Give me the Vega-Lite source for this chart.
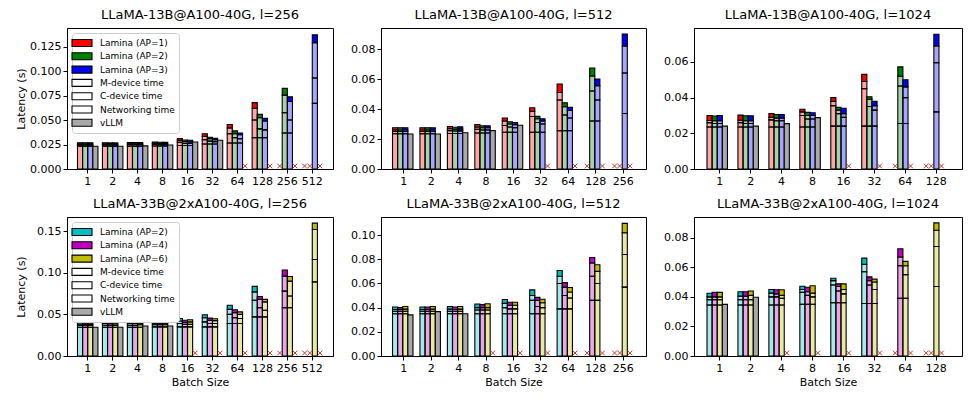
{
  "$schema": "https://vega.github.io/schema/vega-lite/v6.json",
  "description": "Lamina vs vLLM decode latency breakdown",
  "padding": {"left": 14, "top": 8, "right": 2, "bottom": 4},
  "datasets": {
    "p1": [
      {"bs":1,"slot":"a","series":"Lamina (AP=1)","c":0.0232,"m":0.0246,"n":0.0256,"t":0.0268},
      {"bs":1,"slot":"b","series":"Lamina (AP=2)","c":0.0232,"m":0.0246,"n":0.0256,"t":0.0268},
      {"bs":1,"slot":"c","series":"Lamina (AP=3)","c":0.0232,"m":0.0246,"n":0.0256,"t":0.0268},
      {"bs":1,"slot":"d","series":"vLLM","t":0.0233},
      {"bs":2,"slot":"a","series":"Lamina (AP=1)","c":0.0232,"m":0.0246,"n":0.0256,"t":0.0268},
      {"bs":2,"slot":"b","series":"Lamina (AP=2)","c":0.0232,"m":0.0246,"n":0.0256,"t":0.0267},
      {"bs":2,"slot":"c","series":"Lamina (AP=3)","c":0.0232,"m":0.0246,"n":0.0256,"t":0.0267},
      {"bs":2,"slot":"d","series":"vLLM","t":0.0233},
      {"bs":4,"slot":"a","series":"Lamina (AP=1)","c":0.0233,"m":0.0248,"n":0.0258,"t":0.0271},
      {"bs":4,"slot":"b","series":"Lamina (AP=2)","c":0.0233,"m":0.0247,"n":0.0257,"t":0.027},
      {"bs":4,"slot":"c","series":"Lamina (AP=3)","c":0.0233,"m":0.0247,"n":0.0257,"t":0.027},
      {"bs":4,"slot":"d","series":"vLLM","t":0.0236},
      {"bs":8,"slot":"a","series":"Lamina (AP=1)","c":0.0235,"m":0.0251,"n":0.0262,"t":0.0276},
      {"bs":8,"slot":"b","series":"Lamina (AP=2)","c":0.0235,"m":0.0249,"n":0.026,"t":0.0273},
      {"bs":8,"slot":"c","series":"Lamina (AP=3)","c":0.0235,"m":0.0249,"n":0.026,"t":0.0272},
      {"bs":8,"slot":"d","series":"vLLM","t":0.0245},
      {"bs":16,"slot":"a","series":"Lamina (AP=1)","c":0.024,"m":0.027,"n":0.029,"t":0.031},
      {"bs":16,"slot":"b","series":"Lamina (AP=2)","c":0.024,"m":0.026,"n":0.028,"t":0.0296},
      {"bs":16,"slot":"c","series":"Lamina (AP=3)","c":0.024,"m":0.026,"n":0.0275,"t":0.0293},
      {"bs":16,"slot":"d","series":"vLLM","t":0.0275},
      {"bs":32,"slot":"a","series":"Lamina (AP=1)","c":0.0255,"m":0.03,"n":0.0335,"t":0.036},
      {"bs":32,"slot":"b","series":"Lamina (AP=2)","c":0.0255,"m":0.0285,"n":0.031,"t":0.0324},
      {"bs":32,"slot":"c","series":"Lamina (AP=3)","c":0.0255,"m":0.028,"n":0.03,"t":0.0313},
      {"bs":32,"slot":"d","series":"vLLM","t":0.0293},
      {"bs":64,"slot":"a","series":"Lamina (AP=1)","c":0.0265,"m":0.036,"n":0.042,"t":0.0455},
      {"bs":64,"slot":"b","series":"Lamina (AP=2)","c":0.0265,"m":0.032,"n":0.036,"t":0.0389},
      {"bs":64,"slot":"c","series":"Lamina (AP=3)","c":0.0265,"m":0.031,"n":0.035,"t":0.0368},
      {"bs":64,"slot":"d","oom":1},
      {"bs":128,"slot":"a","series":"Lamina (AP=1)","c":0.032,"m":0.05,"n":0.062,"t":0.0678},
      {"bs":128,"slot":"b","series":"Lamina (AP=2)","c":0.032,"m":0.041,"n":0.0523,"t":0.0558},
      {"bs":128,"slot":"c","series":"Lamina (AP=3)","c":0.032,"m":0.04,"n":0.049,"t":0.0517},
      {"bs":128,"slot":"d","oom":1},
      {"bs":256,"slot":"a","oom":1},
      {"bs":256,"slot":"b","series":"Lamina (AP=2)","c":0.0368,"m":0.0575,"n":0.0754,"t":0.0823},
      {"bs":256,"slot":"c","series":"Lamina (AP=3)","c":0.0368,"m":0.05,"n":0.0689,"t":0.0737},
      {"bs":256,"slot":"d","oom":1},
      {"bs":512,"slot":"a","oom":1},
      {"bs":512,"slot":"b","oom":1},
      {"bs":512,"slot":"c","series":"Lamina (AP=3)","c":0.067,"m":0.093,"n":0.129,"t":0.137},
      {"bs":512,"slot":"d","oom":1}
    ],
    "p2": [
      {"bs":1,"slot":"a","series":"Lamina (AP=1)","c":0.0235,"m":0.025,"n":0.026,"t":0.0275},
      {"bs":1,"slot":"b","series":"Lamina (AP=2)","c":0.0235,"m":0.025,"n":0.026,"t":0.0275},
      {"bs":1,"slot":"c","series":"Lamina (AP=3)","c":0.0235,"m":0.025,"n":0.026,"t":0.0275},
      {"bs":1,"slot":"d","series":"vLLM","t":0.0233},
      {"bs":2,"slot":"a","series":"Lamina (AP=1)","c":0.0235,"m":0.025,"n":0.026,"t":0.0275},
      {"bs":2,"slot":"b","series":"Lamina (AP=2)","c":0.0235,"m":0.025,"n":0.026,"t":0.0275},
      {"bs":2,"slot":"c","series":"Lamina (AP=3)","c":0.0235,"m":0.025,"n":0.026,"t":0.0275},
      {"bs":2,"slot":"d","series":"vLLM","t":0.0233},
      {"bs":4,"slot":"a","series":"Lamina (AP=1)","c":0.0237,"m":0.0255,"n":0.0268,"t":0.0283},
      {"bs":4,"slot":"b","series":"Lamina (AP=2)","c":0.0237,"m":0.0253,"n":0.0265,"t":0.0278},
      {"bs":4,"slot":"c","series":"Lamina (AP=3)","c":0.0237,"m":0.0254,"n":0.0266,"t":0.0281},
      {"bs":4,"slot":"d","series":"vLLM","t":0.0242},
      {"bs":8,"slot":"a","series":"Lamina (AP=1)","c":0.024,"m":0.0265,"n":0.028,"t":0.0297},
      {"bs":8,"slot":"b","series":"Lamina (AP=2)","c":0.024,"m":0.026,"n":0.0275,"t":0.0288},
      {"bs":8,"slot":"c","series":"Lamina (AP=3)","c":0.024,"m":0.026,"n":0.0275,"t":0.0288},
      {"bs":8,"slot":"d","series":"vLLM","t":0.0256},
      {"bs":16,"slot":"a","series":"Lamina (AP=1)","c":0.0245,"m":0.029,"n":0.032,"t":0.034},
      {"bs":16,"slot":"b","series":"Lamina (AP=2)","c":0.0245,"m":0.028,"n":0.03,"t":0.0315},
      {"bs":16,"slot":"c","series":"Lamina (AP=3)","c":0.0245,"m":0.0275,"n":0.0295,"t":0.031},
      {"bs":16,"slot":"d","series":"vLLM","t":0.0292},
      {"bs":32,"slot":"a","series":"Lamina (AP=1)","c":0.0245,"m":0.035,"n":0.0385,"t":0.0408},
      {"bs":32,"slot":"b","series":"Lamina (AP=2)","c":0.0245,"m":0.031,"n":0.0335,"t":0.0351},
      {"bs":32,"slot":"c","series":"Lamina (AP=3)","c":0.0245,"m":0.03,"n":0.032,"t":0.0335},
      {"bs":32,"slot":"d","oom":1},
      {"bs":64,"slot":"a","series":"Lamina (AP=1)","c":0.0255,"m":0.046,"n":0.051,"t":0.0567},
      {"bs":64,"slot":"b","series":"Lamina (AP=2)","c":0.0255,"m":0.036,"n":0.0415,"t":0.0442},
      {"bs":64,"slot":"c","series":"Lamina (AP=3)","c":0.0255,"m":0.034,"n":0.039,"t":0.0412},
      {"bs":64,"slot":"d","oom":1},
      {"bs":128,"slot":"a","oom":1},
      {"bs":128,"slot":"b","series":"Lamina (AP=2)","c":0.032,"m":0.052,"n":0.062,"t":0.0673},
      {"bs":128,"slot":"c","series":"Lamina (AP=3)","c":0.032,"m":0.046,"n":0.0555,"t":0.06},
      {"bs":128,"slot":"d","oom":1},
      {"bs":256,"slot":"a","oom":1},
      {"bs":256,"slot":"b","oom":1},
      {"bs":256,"slot":"c","series":"Lamina (AP=3)","c":0.037,"m":0.064,"n":0.082,"t":0.09},
      {"bs":256,"slot":"d","oom":1}
    ],
    "p3": [
      {"bs":1,"slot":"a","series":"Lamina (AP=1)","c":0.0235,"m":0.026,"n":0.0272,"t":0.03},
      {"bs":1,"slot":"b","series":"Lamina (AP=2)","c":0.0235,"m":0.0255,"n":0.027,"t":0.0297},
      {"bs":1,"slot":"c","series":"Lamina (AP=3)","c":0.0235,"m":0.0255,"n":0.027,"t":0.03},
      {"bs":1,"slot":"d","series":"vLLM","t":0.024},
      {"bs":2,"slot":"a","series":"Lamina (AP=1)","c":0.0235,"m":0.026,"n":0.0274,"t":0.0302},
      {"bs":2,"slot":"b","series":"Lamina (AP=2)","c":0.0235,"m":0.0255,"n":0.027,"t":0.0298},
      {"bs":2,"slot":"c","series":"Lamina (AP=3)","c":0.0235,"m":0.0255,"n":0.027,"t":0.0298},
      {"bs":2,"slot":"d","series":"vLLM","t":0.024},
      {"bs":4,"slot":"a","series":"Lamina (AP=1)","c":0.0235,"m":0.0275,"n":0.029,"t":0.031},
      {"bs":4,"slot":"b","series":"Lamina (AP=2)","c":0.0235,"m":0.027,"n":0.0285,"t":0.0305},
      {"bs":4,"slot":"c","series":"Lamina (AP=3)","c":0.0235,"m":0.027,"n":0.0285,"t":0.0305},
      {"bs":4,"slot":"d","series":"vLLM","t":0.0254},
      {"bs":8,"slot":"a","series":"Lamina (AP=1)","c":0.0235,"m":0.03,"n":0.032,"t":0.0335},
      {"bs":8,"slot":"b","series":"Lamina (AP=2)","c":0.0235,"m":0.028,"n":0.03,"t":0.0317},
      {"bs":8,"slot":"c","series":"Lamina (AP=3)","c":0.0235,"m":0.028,"n":0.03,"t":0.0315},
      {"bs":8,"slot":"d","series":"vLLM","t":0.0288},
      {"bs":16,"slot":"a","series":"Lamina (AP=1)","c":0.024,"m":0.0355,"n":0.038,"t":0.04},
      {"bs":16,"slot":"b","series":"Lamina (AP=2)","c":0.024,"m":0.031,"n":0.033,"t":0.0345},
      {"bs":16,"slot":"c","series":"Lamina (AP=3)","c":0.024,"m":0.029,"n":0.031,"t":0.034},
      {"bs":16,"slot":"d","oom":1},
      {"bs":32,"slot":"a","series":"Lamina (AP=1)","c":0.024,"m":0.045,"n":0.049,"t":0.053},
      {"bs":32,"slot":"b","series":"Lamina (AP=2)","c":0.024,"m":0.035,"n":0.039,"t":0.0405},
      {"bs":32,"slot":"c","series":"Lamina (AP=3)","c":0.024,"m":0.033,"n":0.0355,"t":0.038},
      {"bs":32,"slot":"d","oom":1},
      {"bs":64,"slot":"a","oom":1},
      {"bs":64,"slot":"b","series":"Lamina (AP=2)","c":0.0255,"m":0.0465,"n":0.052,"t":0.0572},
      {"bs":64,"slot":"c","series":"Lamina (AP=3)","c":0.0255,"m":0.04,"n":0.046,"t":0.05},
      {"bs":64,"slot":"d","oom":1},
      {"bs":128,"slot":"a","oom":1},
      {"bs":128,"slot":"b","oom":1},
      {"bs":128,"slot":"c","series":"Lamina (AP=3)","c":0.032,"m":0.0595,"n":0.069,"t":0.0755},
      {"bs":128,"slot":"d","oom":1}
    ],
    "p4": [
      {"bs":1,"slot":"a","series":"Lamina (AP=2)","c":0.0345,"m":0.037,"n":0.0385,"t":0.0405},
      {"bs":1,"slot":"b","series":"Lamina (AP=4)","c":0.0345,"m":0.037,"n":0.0385,"t":0.04},
      {"bs":1,"slot":"c","series":"Lamina (AP=6)","c":0.0345,"m":0.037,"n":0.038,"t":0.0398},
      {"bs":1,"slot":"d","series":"vLLM","t":0.0345},
      {"bs":2,"slot":"a","series":"Lamina (AP=2)","c":0.0345,"m":0.037,"n":0.039,"t":0.041},
      {"bs":2,"slot":"b","series":"Lamina (AP=4)","c":0.0345,"m":0.037,"n":0.0388,"t":0.041},
      {"bs":2,"slot":"c","series":"Lamina (AP=6)","c":0.0345,"m":0.037,"n":0.0388,"t":0.041},
      {"bs":2,"slot":"d","series":"vLLM","t":0.0345},
      {"bs":4,"slot":"a","series":"Lamina (AP=2)","c":0.0345,"m":0.037,"n":0.039,"t":0.041},
      {"bs":4,"slot":"b","series":"Lamina (AP=4)","c":0.0345,"m":0.037,"n":0.039,"t":0.041},
      {"bs":4,"slot":"c","series":"Lamina (AP=6)","c":0.0345,"m":0.0375,"n":0.0395,"t":0.042},
      {"bs":4,"slot":"d","series":"vLLM","t":0.036},
      {"bs":8,"slot":"a","series":"Lamina (AP=2)","c":0.035,"m":0.0375,"n":0.0395,"t":0.042},
      {"bs":8,"slot":"b","series":"Lamina (AP=4)","c":0.035,"m":0.0375,"n":0.0395,"t":0.0418},
      {"bs":8,"slot":"c","series":"Lamina (AP=6)","c":0.035,"m":0.0375,"n":0.0395,"t":0.0418},
      {"bs":8,"slot":"d","series":"vLLM","t":0.036},
      {"bs":16,"slot":"a","series":"Lamina (AP=2)","c":0.035,"m":0.039,"n":0.042,"t":0.045},
      {"bs":16,"slot":"b","series":"Lamina (AP=4)","c":0.035,"m":0.038,"n":0.0405,"t":0.043},
      {"bs":16,"slot":"c","series":"Lamina (AP=6)","c":0.035,"m":0.038,"n":0.041,"t":0.0435},
      {"bs":16,"slot":"d","oom":1},
      {"bs":32,"slot":"a","series":"Lamina (AP=2)","c":0.035,"m":0.041,"n":0.046,"t":0.0495},
      {"bs":32,"slot":"b","series":"Lamina (AP=4)","c":0.035,"m":0.039,"n":0.043,"t":0.0455},
      {"bs":32,"slot":"c","series":"Lamina (AP=6)","c":0.035,"m":0.039,"n":0.0425,"t":0.0448},
      {"bs":32,"slot":"d","oom":1},
      {"bs":64,"slot":"a","series":"Lamina (AP=2)","c":0.039,"m":0.05,"n":0.056,"t":0.061},
      {"bs":64,"slot":"b","series":"Lamina (AP=4)","c":0.039,"m":0.046,"n":0.052,"t":0.0555},
      {"bs":64,"slot":"c","series":"Lamina (AP=6)","c":0.039,"m":0.045,"n":0.05,"t":0.053},
      {"bs":64,"slot":"d","oom":1},
      {"bs":128,"slot":"a","series":"Lamina (AP=2)","c":0.047,"m":0.067,"n":0.077,"t":0.0836},
      {"bs":128,"slot":"b","series":"Lamina (AP=4)","c":0.047,"m":0.058,"n":0.068,"t":0.0715},
      {"bs":128,"slot":"c","series":"Lamina (AP=6)","c":0.047,"m":0.055,"n":0.065,"t":0.068},
      {"bs":128,"slot":"d","oom":1},
      {"bs":256,"slot":"a","oom":1},
      {"bs":256,"slot":"b","series":"Lamina (AP=4)","c":0.058,"m":0.078,"n":0.096,"t":0.1033},
      {"bs":256,"slot":"c","series":"Lamina (AP=6)","c":0.058,"m":0.072,"n":0.09,"t":0.0955},
      {"bs":256,"slot":"d","oom":1},
      {"bs":512,"slot":"a","oom":1},
      {"bs":512,"slot":"b","oom":1},
      {"bs":512,"slot":"c","series":"Lamina (AP=6)","c":0.089,"m":0.116,"n":0.152,"t":0.1596},
      {"bs":512,"slot":"d","oom":1}
    ],
    "p5": [
      {"bs":1,"slot":"a","series":"Lamina (AP=2)","c":0.035,"m":0.037,"n":0.0385,"t":0.0405},
      {"bs":1,"slot":"b","series":"Lamina (AP=4)","c":0.035,"m":0.037,"n":0.0385,"t":0.04},
      {"bs":1,"slot":"c","series":"Lamina (AP=6)","c":0.035,"m":0.037,"n":0.0388,"t":0.041},
      {"bs":1,"slot":"d","series":"vLLM","t":0.034},
      {"bs":2,"slot":"a","series":"Lamina (AP=2)","c":0.035,"m":0.037,"n":0.0385,"t":0.0405},
      {"bs":2,"slot":"b","series":"Lamina (AP=4)","c":0.035,"m":0.037,"n":0.0385,"t":0.0405},
      {"bs":2,"slot":"c","series":"Lamina (AP=6)","c":0.035,"m":0.037,"n":0.0388,"t":0.041},
      {"bs":2,"slot":"d","series":"vLLM","t":0.0367},
      {"bs":4,"slot":"a","series":"Lamina (AP=2)","c":0.035,"m":0.037,"n":0.0388,"t":0.041},
      {"bs":4,"slot":"b","series":"Lamina (AP=4)","c":0.035,"m":0.037,"n":0.0385,"t":0.0405},
      {"bs":4,"slot":"c","series":"Lamina (AP=6)","c":0.035,"m":0.037,"n":0.0388,"t":0.041},
      {"bs":4,"slot":"d","series":"vLLM","t":0.035},
      {"bs":8,"slot":"a","series":"Lamina (AP=2)","c":0.035,"m":0.038,"n":0.04,"t":0.043},
      {"bs":8,"slot":"b","series":"Lamina (AP=4)","c":0.035,"m":0.038,"n":0.04,"t":0.0425},
      {"bs":8,"slot":"c","series":"Lamina (AP=6)","c":0.035,"m":0.038,"n":0.04,"t":0.0432},
      {"bs":8,"slot":"d","oom":1},
      {"bs":16,"slot":"a","series":"Lamina (AP=2)","c":0.035,"m":0.04,"n":0.0435,"t":0.0467},
      {"bs":16,"slot":"b","series":"Lamina (AP=4)","c":0.035,"m":0.039,"n":0.042,"t":0.0445},
      {"bs":16,"slot":"c","series":"Lamina (AP=6)","c":0.035,"m":0.039,"n":0.042,"t":0.0445},
      {"bs":16,"slot":"d","oom":1},
      {"bs":32,"slot":"a","series":"Lamina (AP=2)","c":0.035,"m":0.046,"n":0.05,"t":0.0547},
      {"bs":32,"slot":"b","series":"Lamina (AP=4)","c":0.035,"m":0.041,"n":0.046,"t":0.0485},
      {"bs":32,"slot":"c","series":"Lamina (AP=6)","c":0.035,"m":0.04,"n":0.044,"t":0.047},
      {"bs":32,"slot":"d","oom":1},
      {"bs":64,"slot":"a","series":"Lamina (AP=2)","c":0.039,"m":0.06,"n":0.066,"t":0.0707},
      {"bs":64,"slot":"b","series":"Lamina (AP=4)","c":0.039,"m":0.05,"n":0.057,"t":0.0607},
      {"bs":64,"slot":"c","series":"Lamina (AP=6)","c":0.039,"m":0.048,"n":0.053,"t":0.0567},
      {"bs":64,"slot":"d","oom":1},
      {"bs":128,"slot":"a","oom":1},
      {"bs":128,"slot":"b","series":"Lamina (AP=4)","c":0.046,"m":0.066,"n":0.077,"t":0.0815},
      {"bs":128,"slot":"c","series":"Lamina (AP=6)","c":0.046,"m":0.06,"n":0.07,"t":0.0755},
      {"bs":128,"slot":"d","oom":1},
      {"bs":256,"slot":"a","oom":1},
      {"bs":256,"slot":"b","oom":1},
      {"bs":256,"slot":"c","series":"Lamina (AP=6)","c":0.057,"m":0.084,"n":0.102,"t":0.1097},
      {"bs":256,"slot":"d","oom":1}
    ],
    "p6": [
      {"bs":1,"slot":"a","series":"Lamina (AP=2)","c":0.0345,"m":0.038,"n":0.04,"t":0.0424},
      {"bs":1,"slot":"b","series":"Lamina (AP=4)","c":0.0345,"m":0.038,"n":0.04,"t":0.043},
      {"bs":1,"slot":"c","series":"Lamina (AP=6)","c":0.0345,"m":0.038,"n":0.04,"t":0.043},
      {"bs":1,"slot":"d","series":"vLLM","t":0.0349},
      {"bs":2,"slot":"a","series":"Lamina (AP=2)","c":0.0345,"m":0.038,"n":0.0405,"t":0.0435},
      {"bs":2,"slot":"b","series":"Lamina (AP=4)","c":0.0345,"m":0.038,"n":0.0405,"t":0.0435},
      {"bs":2,"slot":"c","series":"Lamina (AP=6)","c":0.0345,"m":0.038,"n":0.041,"t":0.044},
      {"bs":2,"slot":"d","series":"vLLM","t":0.0397},
      {"bs":4,"slot":"a","series":"Lamina (AP=2)","c":0.0345,"m":0.04,"n":0.0425,"t":0.045},
      {"bs":4,"slot":"b","series":"Lamina (AP=4)","c":0.0345,"m":0.04,"n":0.042,"t":0.0448},
      {"bs":4,"slot":"c","series":"Lamina (AP=6)","c":0.0345,"m":0.039,"n":0.041,"t":0.0448},
      {"bs":4,"slot":"d","oom":1},
      {"bs":8,"slot":"a","series":"Lamina (AP=2)","c":0.035,"m":0.043,"n":0.045,"t":0.0472},
      {"bs":8,"slot":"b","series":"Lamina (AP=4)","c":0.035,"m":0.041,"n":0.0435,"t":0.0465},
      {"bs":8,"slot":"c","series":"Lamina (AP=6)","c":0.035,"m":0.04,"n":0.0425,"t":0.0475},
      {"bs":8,"slot":"d","oom":1},
      {"bs":16,"slot":"a","series":"Lamina (AP=2)","c":0.036,"m":0.048,"n":0.051,"t":0.0526},
      {"bs":16,"slot":"b","series":"Lamina (AP=4)","c":0.036,"m":0.044,"n":0.047,"t":0.0488},
      {"bs":16,"slot":"c","series":"Lamina (AP=6)","c":0.036,"m":0.042,"n":0.045,"t":0.0488},
      {"bs":16,"slot":"d","oom":1},
      {"bs":32,"slot":"a","series":"Lamina (AP=2)","c":0.0355,"m":0.057,"n":0.062,"t":0.0662},
      {"bs":32,"slot":"b","series":"Lamina (AP=4)","c":0.0355,"m":0.048,"n":0.051,"t":0.0535},
      {"bs":32,"slot":"c","series":"Lamina (AP=6)","c":0.0355,"m":0.045,"n":0.05,"t":0.052},
      {"bs":32,"slot":"d","oom":1},
      {"bs":64,"slot":"a","oom":1},
      {"bs":64,"slot":"b","series":"Lamina (AP=4)","c":0.039,"m":0.061,"n":0.067,"t":0.0725},
      {"bs":64,"slot":"c","series":"Lamina (AP=6)","c":0.039,"m":0.055,"n":0.061,"t":0.064},
      {"bs":64,"slot":"d","oom":1},
      {"bs":128,"slot":"a","oom":1},
      {"bs":128,"slot":"b","oom":1},
      {"bs":128,"slot":"c","series":"Lamina (AP=6)","c":0.047,"m":0.074,"n":0.085,"t":0.09},
      {"bs":128,"slot":"d","oom":1}
    ]
  },
  "vconcat": [
    {
      "hconcat": [
        {
          "title": "LLaMA-13B@A100-40G, l=256",
          "width": 266, "height": 141,
          "data": {"name": "p1"},
          "encoding": {
            "x": {"field": "bs", "type": "ordinal", "scale": {"paddingInner": 0.18, "paddingOuter": 0.42}, "axis": {"title": null}},
            "xOffset": {"field": "slot", "type": "nominal", "scale": {"domain": ["a","b","c","d"], "paddingInner": 0}},
            "color": {"field": "series", "type": "nominal",
              "scale": {"domain": ["Lamina (AP=1)","Lamina (AP=2)","Lamina (AP=3)","M-device time","C-device time","Networking time","vLLM"],
                        "range": ["#ff0000","#008000","#0000ff","#ffffff","#ffffff","#ffffff","#a9a9a9"]},
              "legend": {"orient": "top-left", "title": null, "offset": 5, "padding": 4, "cornerRadius": 3,
                         "strokeColor": "#cccccc", "fillColor": "white",
                         "symbolType": "M-2,-0.7H2V0.7H-2Z", "symbolSize": 100, "symbolStrokeColor": "black", "symbolStrokeWidth": 1,
                         "symbolOpacity": 1, "labelFontSize": 9, "labelOffset": 12, "labelColor": "black", "rowPadding": 1.3,
                         "encode": {"symbols": {"update": {"fillOpacity": {"value": 1}, "opacity": {"value": 1}}}}}}
          },
          "layer": [
            {"transform": [{"filter": "isValid(datum.c)"}], "mark": {"type": "bar", "fillOpacity": 0.35},
             "encoding": {"y": {"field": "c", "type": "quantitative", "stack": null, "scale": {"domain": [0, 0.144], "nice": false},
               "axis": {"values": [0, 0.025, 0.05, 0.075, 0.1, 0.125], "format": ".3f", "title": "Latency (s)", "minExtent": 38}}}},
            {"transform": [{"filter": "isValid(datum.c)"}], "mark": {"type": "bar", "fillOpacity": 0.35},
             "encoding": {"y": {"field": "m", "type": "quantitative",
               "axis": {"values": [0, 0.025, 0.05, 0.075, 0.1, 0.125], "format": ".3f", "title": "Latency (s)", "minExtent": 38}}, "y2": {"field": "c"}}},
            {"transform": [{"filter": "isValid(datum.c)"}], "mark": {"type": "bar", "fillOpacity": 0.35},
             "encoding": {"y": {"field": "n", "type": "quantitative",
               "axis": {"values": [0, 0.025, 0.05, 0.075, 0.1, 0.125], "format": ".3f", "title": "Latency (s)", "minExtent": 38}}, "y2": {"field": "m"}}},
            {"transform": [{"filter": "isValid(datum.c)"}], "mark": {"type": "bar"},
             "encoding": {"y": {"field": "t", "type": "quantitative",
               "axis": {"values": [0, 0.025, 0.05, 0.075, 0.1, 0.125], "format": ".3f", "title": "Latency (s)", "minExtent": 38}}, "y2": {"field": "n"}}},
            {"transform": [{"filter": "datum.series === 'vLLM'"}], "mark": {"type": "bar"},
             "encoding": {"y": {"field": "t", "type": "quantitative", "stack": null,
               "axis": {"values": [0, 0.025, 0.05, 0.075, 0.1, 0.125], "format": ".3f", "title": "Latency (s)", "minExtent": 38}}}},
            {"transform": [{"filter": "datum.oom === 1"}],
             "mark": {"type": "point", "shape": "M-1,-1L1,1M-1,1L1,-1", "filled": false, "opacity": 1, "size": 22, "strokeWidth": 1, "yOffset": -3},
             "encoding": {"y": {"datum": 0, "type": "quantitative",
               "axis": {"values": [0, 0.025, 0.05, 0.075, 0.1, 0.125], "format": ".3f", "title": "Latency (s)", "minExtent": 38}}, "color": {"value": "#c0392b"}}}
          ]
        },
        {
          "title": "LLaMA-13B@A100-40G, l=512",
          "width": 265, "height": 141,
          "data": {"name": "p2"},
          "encoding": {
            "x": {"field": "bs", "type": "ordinal", "scale": {"paddingInner": 0.18, "paddingOuter": 0.42}, "axis": {"title": null}},
            "xOffset": {"field": "slot", "type": "nominal", "scale": {"domain": ["a","b","c","d"], "paddingInner": 0}},
            "color": {"field": "series", "type": "nominal",
              "scale": {"domain": ["Lamina (AP=1)","Lamina (AP=2)","Lamina (AP=3)","M-device time","C-device time","Networking time","vLLM"],
                        "range": ["#ff0000","#008000","#0000ff","#ffffff","#ffffff","#ffffff","#a9a9a9"]},
              "legend": null}
          },
          "layer": [
            {"transform": [{"filter": "isValid(datum.c)"}], "mark": {"type": "bar", "fillOpacity": 0.35},
             "encoding": {"y": {"field": "c", "type": "quantitative", "stack": null, "scale": {"domain": [0, 0.094], "nice": false},
               "axis": {"values": [0, 0.02, 0.04, 0.06, 0.08], "format": ".2f", "title": null}}}},
            {"transform": [{"filter": "isValid(datum.c)"}], "mark": {"type": "bar", "fillOpacity": 0.35},
             "encoding": {"y": {"field": "m", "type": "quantitative",
               "axis": {"values": [0, 0.02, 0.04, 0.06, 0.08], "format": ".2f", "title": null}}, "y2": {"field": "c"}}},
            {"transform": [{"filter": "isValid(datum.c)"}], "mark": {"type": "bar", "fillOpacity": 0.35},
             "encoding": {"y": {"field": "n", "type": "quantitative",
               "axis": {"values": [0, 0.02, 0.04, 0.06, 0.08], "format": ".2f", "title": null}}, "y2": {"field": "m"}}},
            {"transform": [{"filter": "isValid(datum.c)"}], "mark": {"type": "bar"},
             "encoding": {"y": {"field": "t", "type": "quantitative",
               "axis": {"values": [0, 0.02, 0.04, 0.06, 0.08], "format": ".2f", "title": null}}, "y2": {"field": "n"}}},
            {"transform": [{"filter": "datum.series === 'vLLM'"}], "mark": {"type": "bar"},
             "encoding": {"y": {"field": "t", "type": "quantitative", "stack": null,
               "axis": {"values": [0, 0.02, 0.04, 0.06, 0.08], "format": ".2f", "title": null}}}},
            {"transform": [{"filter": "datum.oom === 1"}],
             "mark": {"type": "point", "shape": "M-1,-1L1,1M-1,1L1,-1", "filled": false, "opacity": 1, "size": 22, "strokeWidth": 1, "yOffset": -3},
             "encoding": {"y": {"datum": 0, "type": "quantitative",
               "axis": {"values": [0, 0.02, 0.04, 0.06, 0.08], "format": ".2f", "title": null}}, "color": {"value": "#c0392b"}}}
          ]
        },
        {
          "title": "LLaMA-13B@A100-40G, l=1024",
          "width": 268, "height": 141,
          "data": {"name": "p3"},
          "encoding": {
            "x": {"field": "bs", "type": "ordinal", "scale": {"paddingInner": 0.18, "paddingOuter": 0.42}, "axis": {"title": null}},
            "xOffset": {"field": "slot", "type": "nominal", "scale": {"domain": ["a","b","c","d"], "paddingInner": 0}},
            "color": {"field": "series", "type": "nominal",
              "scale": {"domain": ["Lamina (AP=1)","Lamina (AP=2)","Lamina (AP=3)","M-device time","C-device time","Networking time","vLLM"],
                        "range": ["#ff0000","#008000","#0000ff","#ffffff","#ffffff","#ffffff","#a9a9a9"]},
              "legend": null}
          },
          "layer": [
            {"transform": [{"filter": "isValid(datum.c)"}], "mark": {"type": "bar", "fillOpacity": 0.35},
             "encoding": {"y": {"field": "c", "type": "quantitative", "stack": null, "scale": {"domain": [0, 0.079], "nice": false},
               "axis": {"values": [0, 0.02, 0.04, 0.06], "format": ".2f", "title": null}}}},
            {"transform": [{"filter": "isValid(datum.c)"}], "mark": {"type": "bar", "fillOpacity": 0.35},
             "encoding": {"y": {"field": "m", "type": "quantitative",
               "axis": {"values": [0, 0.02, 0.04, 0.06], "format": ".2f", "title": null}}, "y2": {"field": "c"}}},
            {"transform": [{"filter": "isValid(datum.c)"}], "mark": {"type": "bar", "fillOpacity": 0.35},
             "encoding": {"y": {"field": "n", "type": "quantitative",
               "axis": {"values": [0, 0.02, 0.04, 0.06], "format": ".2f", "title": null}}, "y2": {"field": "m"}}},
            {"transform": [{"filter": "isValid(datum.c)"}], "mark": {"type": "bar"},
             "encoding": {"y": {"field": "t", "type": "quantitative",
               "axis": {"values": [0, 0.02, 0.04, 0.06], "format": ".2f", "title": null}}, "y2": {"field": "n"}}},
            {"transform": [{"filter": "datum.series === 'vLLM'"}], "mark": {"type": "bar"},
             "encoding": {"y": {"field": "t", "type": "quantitative", "stack": null,
               "axis": {"values": [0, 0.02, 0.04, 0.06], "format": ".2f", "title": null}}}},
            {"transform": [{"filter": "datum.oom === 1"}],
             "mark": {"type": "point", "shape": "M-1,-1L1,1M-1,1L1,-1", "filled": false, "opacity": 1, "size": 22, "strokeWidth": 1, "yOffset": -3},
             "encoding": {"y": {"datum": 0, "type": "quantitative",
               "axis": {"values": [0, 0.02, 0.04, 0.06], "format": ".2f", "title": null}}, "color": {"value": "#c0392b"}}}
          ]
        }
      ],
      "spacing": 16,
      "resolve": {"scale": {"color": "independent"}, "legend": {"color": "independent"}}
    },
    {
      "hconcat": [
        {
          "title": "LLaMA-33B@2xA100-40G, l=256",
          "width": 266, "height": 139,
          "data": {"name": "p4"},
          "encoding": {
            "x": {"field": "bs", "type": "ordinal", "scale": {"paddingInner": 0.18, "paddingOuter": 0.42}, "axis": {"title": "Batch Size"}},
            "xOffset": {"field": "slot", "type": "nominal", "scale": {"domain": ["a","b","c","d"], "paddingInner": 0}},
            "color": {"field": "series", "type": "nominal",
              "scale": {"domain": ["Lamina (AP=2)","Lamina (AP=4)","Lamina (AP=6)","M-device time","C-device time","Networking time","vLLM"],
                        "range": ["#00bfbf","#bf00bf","#bfbf00","#ffffff","#ffffff","#ffffff","#a9a9a9"]},
              "legend": {"orient": "top-left", "title": null, "offset": 5, "padding": 4, "cornerRadius": 3,
                         "strokeColor": "#cccccc", "fillColor": "white",
                         "symbolType": "M-2,-0.7H2V0.7H-2Z", "symbolSize": 100, "symbolStrokeColor": "black", "symbolStrokeWidth": 1,
                         "symbolOpacity": 1, "labelFontSize": 9, "labelOffset": 12, "labelColor": "black", "rowPadding": 1.3,
                         "encode": {"symbols": {"update": {"fillOpacity": {"value": 1}, "opacity": {"value": 1}}}}}}
          },
          "layer": [
            {"transform": [{"filter": "isValid(datum.c)"}], "mark": {"type": "bar", "fillOpacity": 0.35},
             "encoding": {"y": {"field": "c", "type": "quantitative", "stack": null, "scale": {"domain": [0, 0.167], "nice": false},
               "axis": {"values": [0, 0.05, 0.1, 0.15], "format": ".2f", "title": "Latency (s)", "minExtent": 38}}}},
            {"transform": [{"filter": "isValid(datum.c)"}], "mark": {"type": "bar", "fillOpacity": 0.35},
             "encoding": {"y": {"field": "m", "type": "quantitative",
               "axis": {"values": [0, 0.05, 0.1, 0.15], "format": ".2f", "title": "Latency (s)", "minExtent": 38}}, "y2": {"field": "c"}}},
            {"transform": [{"filter": "isValid(datum.c)"}], "mark": {"type": "bar", "fillOpacity": 0.35},
             "encoding": {"y": {"field": "n", "type": "quantitative",
               "axis": {"values": [0, 0.05, 0.1, 0.15], "format": ".2f", "title": "Latency (s)", "minExtent": 38}}, "y2": {"field": "m"}}},
            {"transform": [{"filter": "isValid(datum.c)"}], "mark": {"type": "bar"},
             "encoding": {"y": {"field": "t", "type": "quantitative",
               "axis": {"values": [0, 0.05, 0.1, 0.15], "format": ".2f", "title": "Latency (s)", "minExtent": 38}}, "y2": {"field": "n"}}},
            {"transform": [{"filter": "datum.series === 'vLLM'"}], "mark": {"type": "bar"},
             "encoding": {"y": {"field": "t", "type": "quantitative", "stack": null,
               "axis": {"values": [0, 0.05, 0.1, 0.15], "format": ".2f", "title": "Latency (s)", "minExtent": 38}}}},
            {"transform": [{"filter": "datum.oom === 1"}],
             "mark": {"type": "point", "shape": "M-1,-1L1,1M-1,1L1,-1", "filled": false, "opacity": 1, "size": 22, "strokeWidth": 1, "yOffset": -3},
             "encoding": {"y": {"datum": 0, "type": "quantitative",
               "axis": {"values": [0, 0.05, 0.1, 0.15], "format": ".2f", "title": "Latency (s)", "minExtent": 38}}, "color": {"value": "#c0392b"}}}
          ]
        },
        {
          "title": "LLaMA-33B@2xA100-40G, l=512",
          "width": 265, "height": 139,
          "data": {"name": "p5"},
          "encoding": {
            "x": {"field": "bs", "type": "ordinal", "scale": {"paddingInner": 0.18, "paddingOuter": 0.42}, "axis": {"title": "Batch Size"}},
            "xOffset": {"field": "slot", "type": "nominal", "scale": {"domain": ["a","b","c","d"], "paddingInner": 0}},
            "color": {"field": "series", "type": "nominal",
              "scale": {"domain": ["Lamina (AP=2)","Lamina (AP=4)","Lamina (AP=6)","M-device time","C-device time","Networking time","vLLM"],
                        "range": ["#00bfbf","#bf00bf","#bfbf00","#ffffff","#ffffff","#ffffff","#a9a9a9"]},
              "legend": null}
          },
          "layer": [
            {"transform": [{"filter": "isValid(datum.c)"}], "mark": {"type": "bar", "fillOpacity": 0.35},
             "encoding": {"y": {"field": "c", "type": "quantitative", "stack": null, "scale": {"domain": [0, 0.115], "nice": false},
               "axis": {"values": [0, 0.02, 0.04, 0.06, 0.08, 0.1], "format": ".2f", "title": null}}}},
            {"transform": [{"filter": "isValid(datum.c)"}], "mark": {"type": "bar", "fillOpacity": 0.35},
             "encoding": {"y": {"field": "m", "type": "quantitative",
               "axis": {"values": [0, 0.02, 0.04, 0.06, 0.08, 0.1], "format": ".2f", "title": null}}, "y2": {"field": "c"}}},
            {"transform": [{"filter": "isValid(datum.c)"}], "mark": {"type": "bar", "fillOpacity": 0.35},
             "encoding": {"y": {"field": "n", "type": "quantitative",
               "axis": {"values": [0, 0.02, 0.04, 0.06, 0.08, 0.1], "format": ".2f", "title": null}}, "y2": {"field": "m"}}},
            {"transform": [{"filter": "isValid(datum.c)"}], "mark": {"type": "bar"},
             "encoding": {"y": {"field": "t", "type": "quantitative",
               "axis": {"values": [0, 0.02, 0.04, 0.06, 0.08, 0.1], "format": ".2f", "title": null}}, "y2": {"field": "n"}}},
            {"transform": [{"filter": "datum.series === 'vLLM'"}], "mark": {"type": "bar"},
             "encoding": {"y": {"field": "t", "type": "quantitative", "stack": null,
               "axis": {"values": [0, 0.02, 0.04, 0.06, 0.08, 0.1], "format": ".2f", "title": null}}}},
            {"transform": [{"filter": "datum.oom === 1"}],
             "mark": {"type": "point", "shape": "M-1,-1L1,1M-1,1L1,-1", "filled": false, "opacity": 1, "size": 22, "strokeWidth": 1, "yOffset": -3},
             "encoding": {"y": {"datum": 0, "type": "quantitative",
               "axis": {"values": [0, 0.02, 0.04, 0.06, 0.08, 0.1], "format": ".2f", "title": null}}, "color": {"value": "#c0392b"}}}
          ]
        },
        {
          "title": "LLaMA-33B@2xA100-40G, l=1024",
          "width": 268, "height": 139,
          "data": {"name": "p6"},
          "encoding": {
            "x": {"field": "bs", "type": "ordinal", "scale": {"paddingInner": 0.18, "paddingOuter": 0.42}, "axis": {"title": "Batch Size"}},
            "xOffset": {"field": "slot", "type": "nominal", "scale": {"domain": ["a","b","c","d"], "paddingInner": 0}},
            "color": {"field": "series", "type": "nominal",
              "scale": {"domain": ["Lamina (AP=2)","Lamina (AP=4)","Lamina (AP=6)","M-device time","C-device time","Networking time","vLLM"],
                        "range": ["#00bfbf","#bf00bf","#bfbf00","#ffffff","#ffffff","#ffffff","#a9a9a9"]},
              "legend": null}
          },
          "layer": [
            {"transform": [{"filter": "isValid(datum.c)"}], "mark": {"type": "bar", "fillOpacity": 0.35},
             "encoding": {"y": {"field": "c", "type": "quantitative", "stack": null, "scale": {"domain": [0, 0.094], "nice": false},
               "axis": {"values": [0, 0.02, 0.04, 0.06, 0.08], "format": ".2f", "title": null}}}},
            {"transform": [{"filter": "isValid(datum.c)"}], "mark": {"type": "bar", "fillOpacity": 0.35},
             "encoding": {"y": {"field": "m", "type": "quantitative",
               "axis": {"values": [0, 0.02, 0.04, 0.06, 0.08], "format": ".2f", "title": null}}, "y2": {"field": "c"}}},
            {"transform": [{"filter": "isValid(datum.c)"}], "mark": {"type": "bar", "fillOpacity": 0.35},
             "encoding": {"y": {"field": "n", "type": "quantitative",
               "axis": {"values": [0, 0.02, 0.04, 0.06, 0.08], "format": ".2f", "title": null}}, "y2": {"field": "m"}}},
            {"transform": [{"filter": "isValid(datum.c)"}], "mark": {"type": "bar"},
             "encoding": {"y": {"field": "t", "type": "quantitative",
               "axis": {"values": [0, 0.02, 0.04, 0.06, 0.08], "format": ".2f", "title": null}}, "y2": {"field": "n"}}},
            {"transform": [{"filter": "datum.series === 'vLLM'"}], "mark": {"type": "bar"},
             "encoding": {"y": {"field": "t", "type": "quantitative", "stack": null,
               "axis": {"values": [0, 0.02, 0.04, 0.06, 0.08], "format": ".2f", "title": null}}}},
            {"transform": [{"filter": "datum.oom === 1"}],
             "mark": {"type": "point", "shape": "M-1,-1L1,1M-1,1L1,-1", "filled": false, "opacity": 1, "size": 22, "strokeWidth": 1, "yOffset": -3},
             "encoding": {"y": {"datum": 0, "type": "quantitative",
               "axis": {"values": [0, 0.02, 0.04, 0.06, 0.08], "format": ".2f", "title": null}}, "color": {"value": "#c0392b"}}}
          ]
        }
      ],
      "spacing": 16,
      "resolve": {"scale": {"color": "independent"}, "legend": {"color": "independent"}}
    }
  ],
  "spacing": 10,
  "resolve": {"scale": {"color": "independent"}, "legend": {"color": "independent"}},
  "config": {
    "font": "DejaVu Sans",
    "view": {"stroke": "black", "strokeWidth": 1},
    "axis": {"grid": false, "domainColor": "black", "tickColor": "black", "labelColor": "black", "titleColor": "black",
             "labelFontSize": 11, "titleFontSize": 11, "titleFontWeight": "normal", "tickSize": 4, "labelPadding": 2},
    "axisX": {"labelAngle": 0, "titlePadding": 3},
    "axisY": {"titlePadding": 3},
    "title": {"fontSize": 13, "fontWeight": "normal", "color": "black", "offset": 6},
    "bar": {"stroke": "black", "strokeWidth": 1.1}
  }
}
